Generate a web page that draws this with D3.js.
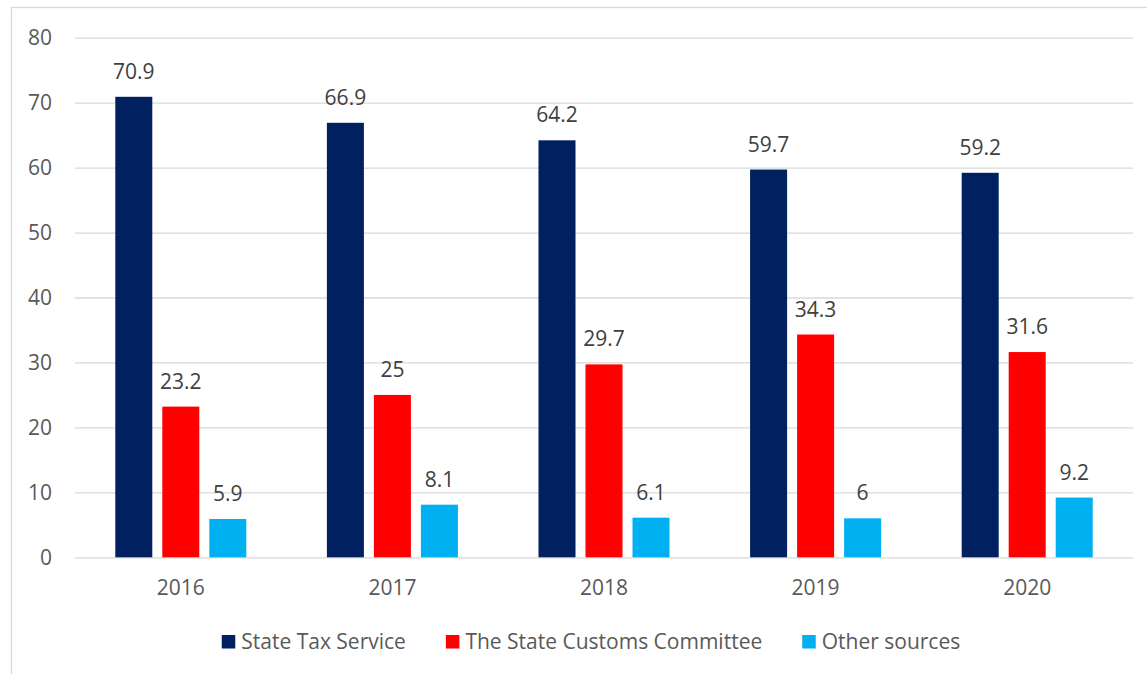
<!DOCTYPE html>
<html>
<head>
<meta charset="utf-8">
<script src="https://cdn.jsdelivr.net/npm/d3@7"></script>
<style>
  html, body { margin: 0; padding: 0; background: #ffffff; }
  svg { display: block; }
  text { font-family: "Open Sans", "Noto Sans", sans-serif; }
</style>
</head>
<body>
<svg id="chart" width="1147" height="674"></svg>
<script>
// Revenue share by source, %
const years = ["2016", "2017", "2018", "2019", "2020"];
const seriesNames = ["State Tax Service", "The State Customs Committee", "Other sources"];
const stateTax = [70.9, 66.9, 64.2, 59.7, 59.2];
const customs = [23.2, 25, 29.7, 34.3, 31.6];
const otherSources = [5.9, 8.1, 6.1, 6, 9.2];
const yTicks = [0, 10, 20, 30, 40, 50, 60, 70, 80];

const seriesValues = [stateTax, customs, otherSources];
const colors = ["#002060", "#FF0000", "#00B0F0"];

const svg = d3.select("#chart");
const W = 1147, H = 674;
const plot = { left: 75, right: 1133, top: 37.7, bottom: 557.3 };

// outer frame
svg.append("rect")
  .attr("x", 11.5).attr("y", 7.5)
  .attr("width", W + 20).attr("height", H + 20)
  .attr("fill", "none").attr("stroke", "#d9d9d9").attr("stroke-width", 1.3);

const x0 = d3.scaleBand().domain(years).range([plot.left, plot.right]).padding(0);
const x1 = d3.scaleBand().domain(seriesNames).range([0, x0.bandwidth()])
  .paddingInner(0.2128).paddingOuter(0.857);
const y = d3.scaleLinear().domain([0, 80]).range([plot.bottom, plot.top]);
const color = d3.scaleOrdinal().domain(seriesNames).range(colors);

// gridlines and y labels
const yAxis = d3.axisLeft(y).tickValues(yTicks)
  .tickSize(-(plot.right - plot.left)).tickPadding(23).tickFormat(d3.format("d"));
const gy = svg.append("g").attr("transform", `translate(${plot.left},0)`).call(yAxis);
gy.select(".domain").remove();
gy.selectAll(".tick line").attr("stroke", "#d9d9d9").attr("stroke-width", 1.3);
gy.selectAll(".tick text")
  .attr("fill", "#595959").attr("font-size", 21)
  .style("font-family", "'Open Sans', sans-serif");

// x labels
const xAxis = d3.axisBottom(x0).tickSize(0).tickPadding(0);
const gx = svg.append("g").attr("transform", `translate(0,${plot.bottom})`).call(xAxis);
gx.select(".domain").remove();
gx.selectAll(".tick text")
  .attr("fill", "#595959").attr("font-size", 21)
  .attr("y", 37.5).attr("dy", 0)
  .style("font-family", "'Open Sans', sans-serif");

// bars
const rows = years.map((yr, i) => ({
  year: yr,
  items: seriesNames.map((s, k) => ({ series: s, value: seriesValues[k][i] }))
}));

const groups = svg.append("g").selectAll("g")
  .data(rows).join("g")
  .attr("transform", d => `translate(${x0(d.year)},0)`);

groups.selectAll("rect")
  .data(d => d.items).join("rect")
  .attr("x", d => x1(d.series))
  .attr("width", x1.bandwidth())
  .attr("y", d => y(d.value))
  .attr("height", d => y(0) - y(d.value))
  .attr("fill", d => color(d.series));

groups.selectAll("text.val")
  .data(d => d.items).join("text")
  .attr("class", "val")
  .attr("x", d => x1(d.series) + x1.bandwidth() / 2)
  .attr("y", d => y(d.value) - 18)
  .attr("text-anchor", "middle")
  .attr("fill", "#404040")
  .attr("font-size", 21)
  .text(d => d3.format("")(d.value));

// legend
const legend = svg.append("g");
const items = legend.selectAll("g").data(seriesNames).join("g");
items.append("rect")
  .attr("width", 13.5).attr("height", 13.5)
  .attr("y", 635)
  .attr("fill", d => color(d));
items.append("text")
  .attr("x", 19.5).attr("y", 649)
  .attr("fill", "#595959").attr("font-size", 21)
  .text(d => d);

let cursor = 0;
const widths = [];
items.each(function () {
  const w = 19.5 + this.querySelector("text").getComputedTextLength();
  widths.push(w);
});
const gap = 40;
const total = d3.sum(widths) + gap * (widths.length - 1);
cursor = 591 - total / 2;
items.attr("transform", (d, i) => {
  const t = `translate(${cursor},0)`;
  cursor += widths[i] + gap;
  return t;
});
</script>
</body>
</html>
